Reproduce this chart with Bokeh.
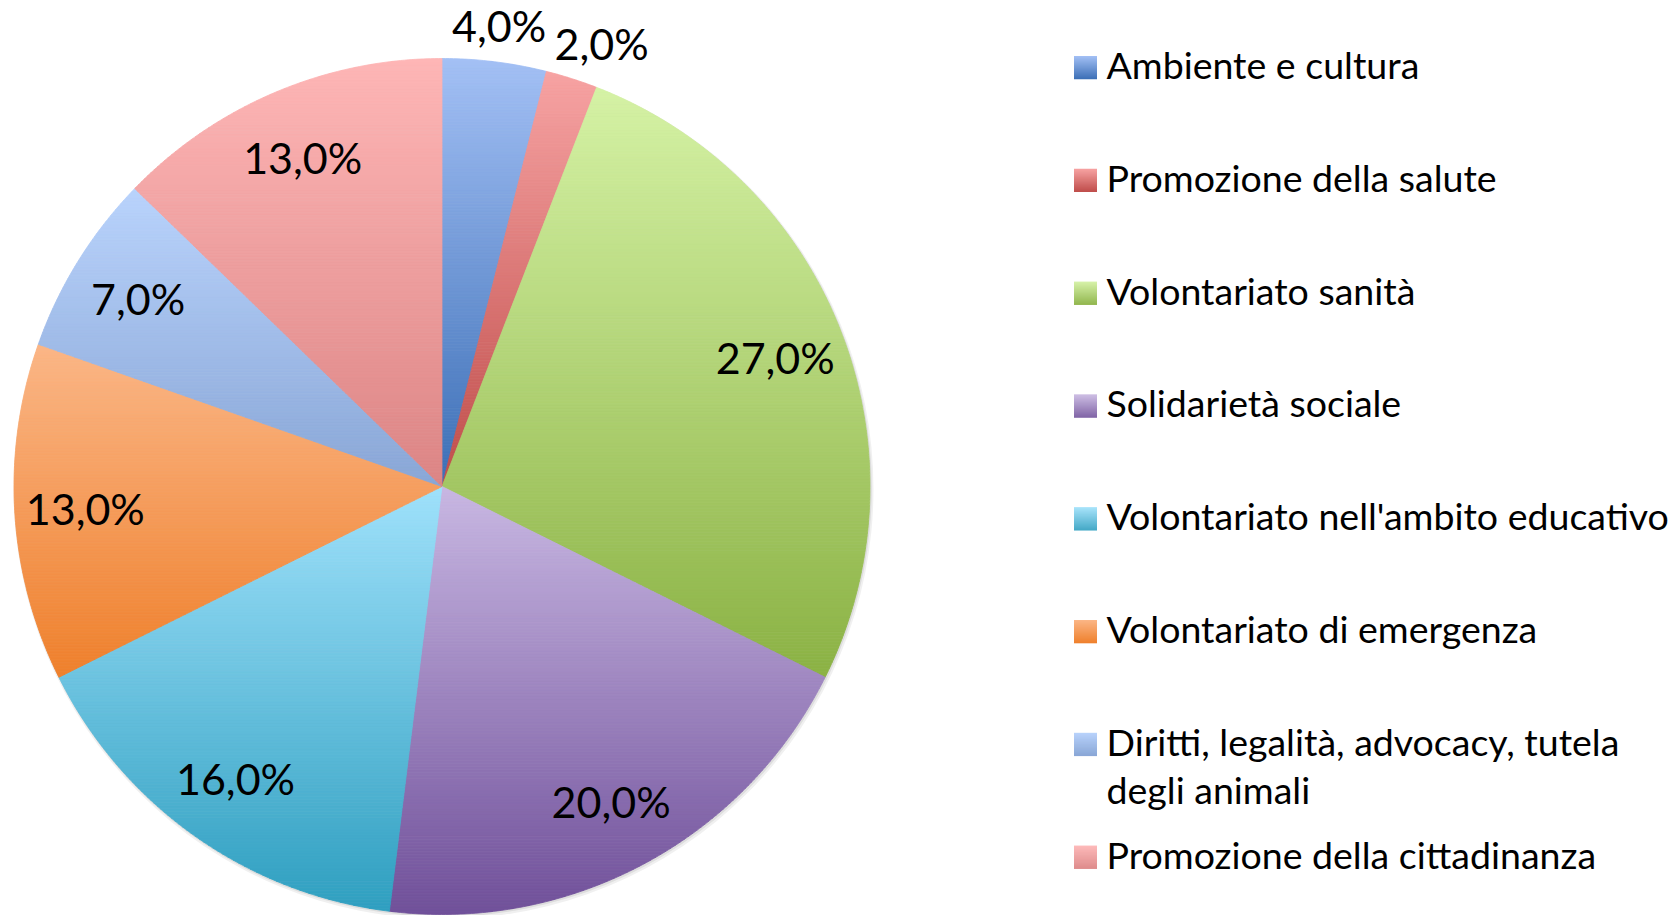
import numpy as np
from bokeh.plotting import figure
from bokeh.models import Range1d, ColumnDataSource
from bokeh.embed import file_html
from bokeh.resources import INLINE
from bokeh.core.properties import value

# ---------------- data ----------------
categories = [
    "Ambiente e cultura",
    "Promozione della salute",
    "Volontariato  sanità",
    "Solidarietà sociale",
    "Volontariato nell'ambito educativo",
    "Volontariato di emergenza",
    "Diritti, legalità, advocacy, tutela\ndegli animali",
    "Promozione della cittadinanza",
]
values = [4.0, 2.0, 27.0, 20.0, 16.0, 13.0, 7.0, 13.0]

# gradient colours per slice (top -> bottom)
top_colors = ["#a3c0f5", "#f7a3a3", "#d5f2a5", "#c8b7e2", "#9fe1fb", "#fbb686", "#b9d3fc", "#feb6b6"]
bottom_colors = ["#3c6fb6", "#bf4d4a", "#8bb244", "#70509a", "#2f9fc0", "#ef802c", "#89a6d6", "#dc8585"]

# ---------------- layout ----------------
W, H = 1675, 915
CX, CY, R = 441.5, 486.0, 428.0
FONT = "Lato"
LABEL_SIZE = 43
LEG_SIZE = 37.5

p = figure(width=W, height=H, output_backend="svg", toolbar_location=None,
           x_range=Range1d(0, W), y_range=Range1d(H, 0),
           x_axis_type=None, y_axis_type=None, min_border=0)
p.outline_line_color = None
p.grid.visible = False
p.background_fill_color = "white"
p.border_fill_color = "white"


def hex2rgb(h):
    h = h.lstrip("#")
    return np.array([int(h[i:i + 2], 16) for i in (0, 2, 4)], dtype=float)


def mix(c1, c2, t):
    a, b = hex2rgb(c1), hex2rgb(c2)
    c = a + (b - a) * t
    return "#%02x%02x%02x" % tuple(int(round(v)) for v in c)


def clip_half(pts, yline, keep_ge):
    out = []
    n = len(pts)
    if n == 0:
        return out
    ins = lambda pt: pt[1] >= yline if keep_ge else pt[1] <= yline
    for i in range(n):
        a = pts[i]
        b = pts[(i + 1) % n]
        ia, ib = ins(a), ins(b)
        if ia:
            out.append(a)
        if ia != ib:
            t = (yline - a[1]) / (b[1] - a[1])
            out.append((a[0] + t * (b[0] - a[0]), yline))
    return out


# soft shadow
p.circle(x=[CX + 1.5], y=[CY + 2.5], radius=R + 2.0, fill_color="#000000", fill_alpha=0.06, line_color=None)
p.circle(x=[CX + 1.0], y=[CY + 1.5], radius=R + 0.8, fill_color="#000000", fill_alpha=0.08, line_color=None)

vals = np.array(values, dtype=float)
fracs = vals / vals.sum()
ends = np.cumsum(fracs) * 2 * np.pi
starts = ends - fracs * 2 * np.pi

xs_all, ys_all, cols = [], [], []
for i in range(len(values)):
    a0, a1 = starts[i], ends[i]
    nseg = max(4, int(np.degrees(a1 - a0) * 2))
    angs = np.linspace(a0, a1, nseg + 1)
    poly = [(CX, CY)] + [(CX + R * np.sin(a), CY - R * np.cos(a)) for a in angs]
    ymin = min(pt[1] for pt in poly)
    ymax = max(pt[1] for pt in poly)
    nb = max(2, int((ymax - ymin) / 3))
    edges = np.linspace(ymin, ymax, nb + 1)
    for k in range(nb):
        band = clip_half(poly, edges[k], True)
        band = clip_half(band, edges[k + 1], False)
        if len(band) < 3:
            continue
        t = ((edges[k] + edges[k + 1]) / 2 - ymin) / (ymax - ymin)
        xs_all.append([b[0] for b in band])
        ys_all.append([b[1] for b in band])
        cols.append(mix(top_colors[i], bottom_colors[i], t))

src = ColumnDataSource(dict(xs=xs_all, ys=ys_all, c=cols))
p.patches("xs", "ys", source=src, fill_color="c", line_color="c", line_width=0.8)

# percentage labels (small slices outside, with simple collision avoidance)
lx, ly, lt = [], [], []
prev_out_right = None
for i, v in enumerate(values):
    mid = (starts[i] + ends[i]) / 2
    txt = ("%.1f" % v).replace(".", ",") + "%"
    outside = fracs[i] < 0.05
    rf = 1.085 if outside else 0.835
    x = CX + R * rf * np.sin(mid)
    y = CY - R * rf * np.cos(mid)
    if outside:
        wtxt = len(txt) * 0.55 * LABEL_SIZE
        if prev_out_right is not None and x - wtxt / 2 < prev_out_right + 8:
            x = prev_out_right + 8 + wtxt / 2
        prev_out_right = x + wtxt / 2
    lx.append(x)
    ly.append(y)
    lt.append(txt)
p.text(x=lx, y=ly, text=lt, text_font=value(FONT), text_font_size="%spx" % LABEL_SIZE,
       text_align="center", text_baseline="middle", text_color="black")

# legend
LEG_X0, LEG_SQ, LEG_TX = 1073.5, 23.0, 1106.0
LEG_Y0, LEG_DY, LINE_DY = 67.0, 112.8, 48.0
qx0, qx1, qt, qb, qc = [], [], [], [], []
tx, ty, tt = [], [], []
for i, lab in enumerate(categories):
    yc = LEG_Y0 + i * LEG_DY
    nsub = 23
    for k in range(nsub):
        y0 = yc - LEG_SQ / 2 + k * LEG_SQ / nsub
        y1 = y0 + LEG_SQ / nsub
        qx0.append(LEG_X0)
        qx1.append(LEG_X0 + LEG_SQ)
        qt.append(y0)
        qb.append(y1 + 0.3)
        qc.append(mix(top_colors[i], bottom_colors[i], (k + 0.5) / nsub))
    for j, line in enumerate(lab.split("\n")):
        tx.append(LEG_TX)
        ty.append(yc - 3 + j * LINE_DY)
        tt.append(line)
p.quad(left=qx0, right=qx1, top=qt, bottom=qb, fill_color=qc, line_color=None)
p.text(x=tx, y=ty, text=tt, text_font=value(FONT), text_font_size="%spx" % LEG_SIZE,
       text_align="left", text_baseline="middle", text_color="black")

open("out.html", "w").write(file_html(p, INLINE))
